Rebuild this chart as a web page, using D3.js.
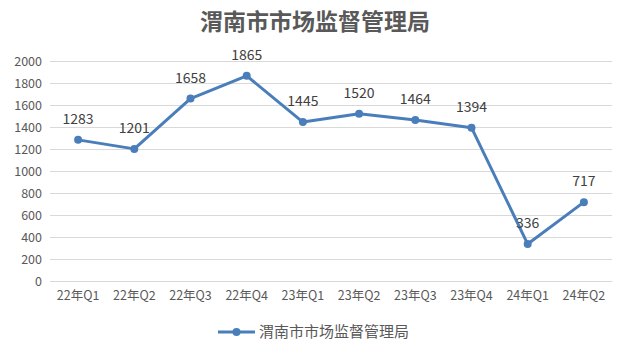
<!DOCTYPE html>
<html><head><meta charset="utf-8">
<script src="https://cdn.jsdelivr.net/npm/d3@7"></script>
<style>body{margin:0;background:#fff;} svg{display:block;}</style>
</head><body>
<svg id="c" width="630" height="358"></svg>
<script>
const title = "渭南市市场监督管理局";
const seriesName = "渭南市市场监督管理局";
const categories = ["22年Q1","22年Q2","22年Q3","22年Q4","23年Q1","23年Q2","23年Q3","23年Q4","24年Q1","24年Q2"];
const values = [1283,1201,1658,1865,1445,1520,1464,1394,336,717];
const yTicks = [0,200,400,600,800,1000,1200,1400,1600,1800,2000];

const svg = d3.select("#c");
const W = 630, H = 358;
const m = {left:50, right:18, top:61, bottom:77};
const x = d3.scaleBand().domain(categories).range([m.left, W - m.right]);
const y = d3.scaleLinear().domain([0,2000]).range([H - m.bottom, m.top]);
const blue = "#4a7ebb";
const font = "'Noto Sans CJK SC', 'Noto Sans', sans-serif";

svg.append("text").attr("x", 315).attr("y", 30).attr("text-anchor","middle")
  .attr("font-family", "'Noto Sans CJK SC', serif").attr("font-weight","bold")
  .attr("font-size", 23).attr("fill","#595959").text(title);

const yAxis = d3.axisLeft(y).tickValues(yTicks).tickFormat(d3.format("d"))
  .tickSize(-(W - m.left - m.right)).tickPadding(8);
const gy = svg.append("g").attr("transform", `translate(${m.left},0)`).call(yAxis);
gy.select(".domain").remove();
gy.selectAll(".tick line").attr("stroke","#d9d9d9").attr("stroke-width",1);
gy.selectAll(".tick text").attr("font-family", font).attr("font-size", 12.5).attr("fill","#595959");

const xAxis = d3.axisBottom(x).tickSize(0).tickPadding(10);
const gx = svg.append("g").attr("transform", `translate(0,${H - m.bottom})`).call(xAxis);
gx.select(".domain").attr("stroke","#d9d9d9");
gx.selectAll(".tick text").attr("font-family", font).attr("font-size", 12.5).attr("fill","#595959");

const cx = d => x(d) + x.bandwidth()/2;
const line = d3.line().x((d,i)=>cx(categories[i])).y(d=>y(d));
svg.append("path").datum(values).attr("d", line).attr("fill","none")
  .attr("stroke", blue).attr("stroke-width", 3).attr("stroke-linejoin","round").attr("stroke-linecap","round");
svg.selectAll("circle.pt").data(values).join("circle").attr("class","pt")
  .attr("cx",(d,i)=>cx(categories[i])).attr("cy",d=>y(d)).attr("r",4).attr("fill",blue);

svg.selectAll("text.lbl").data(values).join("text").attr("class","lbl")
  .attr("x",(d,i)=>cx(categories[i])).attr("y",d=>y(d)-16)
  .attr("text-anchor","middle").attr("font-family", font).attr("font-size", 14).attr("fill","#404040")
  .text(d=>d);

const lg = svg.append("g");
lg.append("line").attr("x1",218).attr("x2",255).attr("y1",332).attr("y2",332).attr("stroke",blue).attr("stroke-width",3);
lg.append("circle").attr("cx",236.5).attr("cy",332).attr("r",4).attr("fill",blue);
lg.append("text").attr("x",259).attr("y",337).attr("font-family", font).attr("font-size", 15).attr("fill","#595959").text(seriesName);
</script>
</body></html>
